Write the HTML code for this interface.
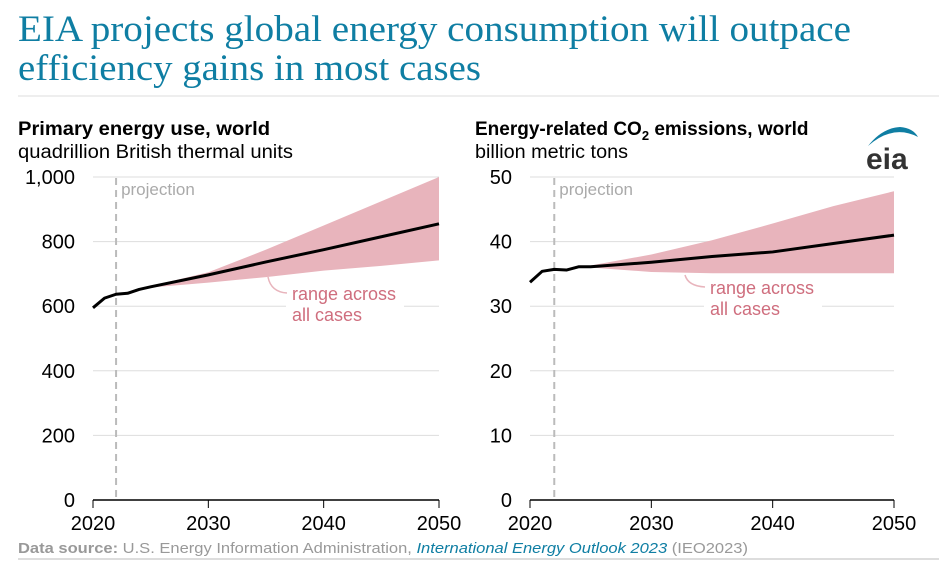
<!DOCTYPE html>
<html><head><meta charset="utf-8"><style>
body{margin:0;width:939px;height:565px;background:#fff;overflow:hidden;font-family:"Liberation Sans",sans-serif}
svg{position:absolute;left:0;top:0}
</style></head><body>
<svg id="s" width="939" height="565">
<text x="18" y="41" font-family="Liberation Serif" font-size="37" fill="#0f7ea3" textLength="833" lengthAdjust="spacingAndGlyphs">EIA projects global energy consumption will outpace</text>
<text x="18" y="80" font-family="Liberation Serif" font-size="37" fill="#0f7ea3" textLength="463" lengthAdjust="spacingAndGlyphs">efficiency gains in most cases</text>
<line x1="18" y1="96" x2="939" y2="96" stroke="#ddd" stroke-width="1"/>
<text x="18" y="135" font-size="19" font-weight="bold" textLength="252" lengthAdjust="spacingAndGlyphs">Primary energy use, world</text>
<text x="18" y="158" font-size="19" textLength="275" lengthAdjust="spacingAndGlyphs">quadrillion British thermal units</text>
<text x="475" y="135" font-size="19" font-weight="bold">Energy-related CO<tspan font-size="13" dy="5">2</tspan><tspan dy="-5"> emissions, world</tspan></text>
<text x="475" y="158" font-size="19" textLength="153" lengthAdjust="spacingAndGlyphs">billion metric tons</text>
<g>
<path d="M868 146 Q893 124 918 137 Q913 128 900 127 Q882 128 868 146Z" fill="#0f7ea3"/>
<text x="866" y="169" font-size="30" font-weight="bold" fill="#333">eia</text>
</g>
<text x="18" y="553" font-size="15" fill="#999" textLength="730" lengthAdjust="spacingAndGlyphs"><tspan font-weight="bold">Data source:</tspan> U.S. Energy Information Administration, <tspan fill="#0f7ea3" font-style="italic">International Energy Outlook 2023</tspan> (IEO2023)</text>
<line x1="18" y1="559" x2="939" y2="559" stroke="#ddd" stroke-width="2"/>
<g id="L"></g><g id="R"></g>
</svg>
<script>
const years=[2020,2021,2022,2023,2024,2025,2030,2035,2040,2045,2050];
const energyRef=[595,625,637,640,652,660,697,737,775,815,855];
const bandYears=[2024,2025,2030,2035,2040,2045,2050];
const energyHigh=[652,662,705,775,850,925,1000];
const energyLow=[652,658,673,690,710,725,742];
const energyTicks=[0,200,400,600,800,1000];
const co2Ref=[33.7,35.4,35.7,35.6,36.1,36.1,36.8,37.7,38.4,39.7,41];
const co2High=[36.1,36.3,38.0,40.2,42.8,45.5,47.8];
const co2Low=[36.1,36.0,35.3,35.1,35.1,35.1,35.1];
const co2Ticks=[0,10,20,30,40,50];
const xTicks=[2020,2030,2040,2050];
const NS="http://www.w3.org/2000/svg";
function mk(g,t,a){const e=document.createElementNS(NS,t);for(const k in a)e.setAttribute(k,a[k]);g.appendChild(e);return e;}
function draw(id,x0,x1,ymax,ticks,ref,hi,lo,fmt,pre){
 const g=document.getElementById(id);
 const X=v=>x0+(v-2020)/30*(x1-x0), Y=v=>500-v/ymax*323;
 ticks.forEach(t=>{
  if(t>0){const l=mk(g,'line',{x1:x0,x2:x1,y1:Y(t),y2:Y(t),stroke:'#ddd'});
  
  }
  const tx=mk(g,'text',{x:x0-18,y:Y(t)+7,'text-anchor':'end','font-size':'20'});tx.textContent=fmt(t);
  
  
 });
 let d='M'+bandYears.map((y,i)=>X(y)+','+Y(hi[i])).join('L')+'L'+bandYears.map((y,i)=>X(y)+','+Y(lo[i])).reverse().join('L')+'Z';
 const b=mk(g,'path',{d:d,fill:'#e8b4bc'});
 
 
 const pl=mk(g,'line',{x1:X(2022),x2:X(2022),y1:178,y2:500,stroke:'#bbb','stroke-width':2,'stroke-dasharray':'7,5'});
 
 
 const pt=mk(g,'text',{x:X(2022)+5,y:195,'font-size':'17',fill:'#aaa'});pt.textContent='projection';
 
 
 const ln=mk(g,'polyline',{points:years.map((y,i)=>X(y)+','+Y(ref[i])).join(' '),fill:'none',stroke:'#000','stroke-width':3,'stroke-linejoin':'round'});
 
 
 const ax=mk(g,'line',{x1:x0,x2:x1,y1:500,y2:500,stroke:'#000','stroke-width':1.5});
 
 
 xTicks.forEach(t=>{
  mk(g,'line',{x1:X(t),x2:X(t),y1:500,y2:508,stroke:'#000'});
  const tx=mk(g,'text',{x:X(t),y:530,'text-anchor':'middle','font-size':'20'});tx.textContent=t;
  
  
 });
 return {X,Y,g};
}
const a=draw('L',93,439,1000,energyTicks,energyRef,energyHigh,energyLow,v=>v.toLocaleString('en-US'),'energy');
const b=draw('R',530,894,50,co2Ticks,co2Ref,co2High,co2Low,v=>String(v),'co2');
function ann(o,x,y,px,py,pre){
 mk(o.g,'rect',{x:x-6,y:y-18,width:118,height:50,fill:'#fff'});
 mk(o.g,'path',{d:`M${px},${py} Q${px+3},${y-8} ${x-5},${y-7}`,fill:'none',stroke:'#e8b4bc','stroke-width':1.5});
 const t=mk(o.g,'text',{x:x,y:y,'font-size':'18',fill:'#cf6e7e'});t.innerHTML='<tspan x="'+x+'">range across</tspan><tspan x="'+x+'" dy="21">all cases</tspan>';
 
 
}
ann(a,292,300,268,277,'energy');
ann(b,710,294,685,275,'co2');
</script>
</body></html>
